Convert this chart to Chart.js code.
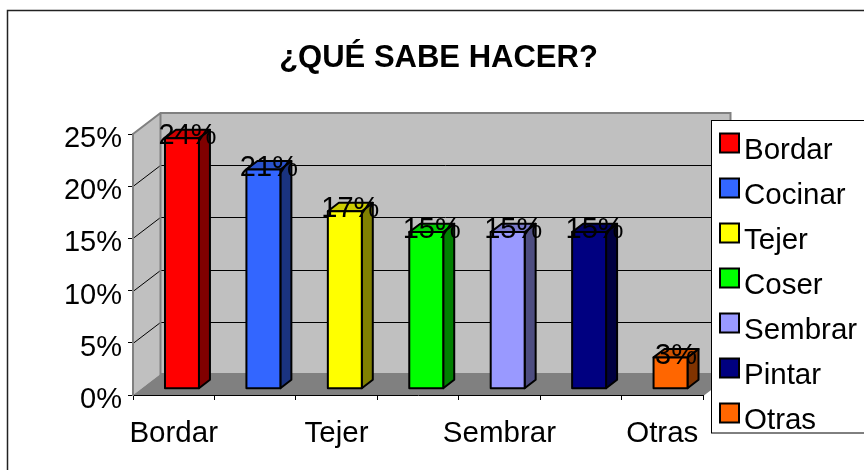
<!DOCTYPE html>
<html>
<head>
<meta charset="utf-8">
<script src="https://cdn.jsdelivr.net/npm/chart.js@4/dist/chart.umd.min.js"></script>
<style>
html,body{margin:0;padding:0;background:#fff;}
#c{display:block;}
</style>
</head>
<body>
<canvas id="c" width="864" height="470"></canvas>
<script>
const titleText = '¿QUÉ SABE HACER?';
const categories = ['Bordar','Cocinar','Tejer','Coser','Sembrar','Pintar','Otras'];
const values = [0.24, 0.21, 0.17, 0.15, 0.15, 0.15, 0.03];
const dataLabels = ['24%','21%','17%','15%','15%','15%','3%'];
const yTickValues = [0, 0.05, 0.10, 0.15, 0.20, 0.25];
const frontColors = ['#FF0000','#3366FF','#FFFF00','#00FF00','#9999FF','#000080','#FF6600'];
const topColors   = ['#CC0000','#2952CC','#CCCC00','#00CC00','#7A7ACC','#000066','#CC5200'];
const sideColors  = ['#800000','#1A3380','#808000','#008000','#4D4D80','#000040','#803300'];

const FONT = "'Liberation Sans', Arial, Helvetica, sans-serif";
const D = {x: 27.5, y: -21};   // 3D depth of the plot
const F0 = 0.3, F1 = 0.7;      // bar position within depth

const threeD = {
  id: 'threeD',
  beforeDraw(chart) {
    const ctx = chart.ctx;
    const ca = chart.chartArea;
    const ys = chart.scales.y;
    ctx.save();
    ctx.fillStyle = '#fff';
    ctx.fillRect(0, 0, chart.width, chart.height);
    // outer frame
    ctx.strokeStyle = '#222';
    ctx.lineWidth = 1.5;
    ctx.strokeRect(7.5, 10.5, 1000, 1000);
    // title
    ctx.fillStyle = '#000';
    ctx.font = 'bold 31px ' + FONT;
    ctx.textAlign = 'center';
    ctx.textBaseline = 'alphabetic';
    ctx.fillText(titleText, 438.5, 67);

    const y0 = ys.getPixelForValue(0), yT = ys.getPixelForValue(0.25);
    const L = ca.left, R = ca.right;
    // back wall
    ctx.fillStyle = '#C0C0C0';
    ctx.fillRect(L + D.x, yT + D.y, R - L, y0 - yT);
    // side wall
    ctx.beginPath();
    ctx.moveTo(L, yT); ctx.lineTo(L + D.x, yT + D.y); ctx.lineTo(L + D.x, y0 + D.y); ctx.lineTo(L, y0); ctx.closePath();
    ctx.fill();
    // floor
    ctx.fillStyle = '#808080';
    ctx.beginPath();
    ctx.moveTo(L, y0); ctx.lineTo(L + D.x, y0 + D.y); ctx.lineTo(R + D.x, y0 + D.y); ctx.lineTo(R, y0); ctx.closePath();
    ctx.fill();
    // gridlines
    ctx.strokeStyle = '#000';
    ctx.lineWidth = 1;
    yTickValues.forEach(v => {
      if (v === 0 || v === 0.25) return;
      const py = Math.round(ys.getPixelForValue(v)) + 0.5;
      ctx.beginPath();
      ctx.moveTo(L, py); ctx.lineTo(L + D.x, py + D.y); ctx.lineTo(R + D.x, py + D.y);
      ctx.stroke();
    });
    // wall edges
    ctx.strokeStyle = '#808080';
    ctx.lineWidth = 2;
    ctx.beginPath();
    ctx.moveTo(L, yT); ctx.lineTo(L + D.x, yT + D.y); ctx.lineTo(R + D.x, yT + D.y); ctx.lineTo(R + D.x, y0 + D.y); ctx.lineTo(R, y0);
    ctx.moveTo(L + D.x, yT + D.y); ctx.lineTo(L + D.x, y0 + D.y); ctx.lineTo(R + D.x, y0 + D.y);
    ctx.stroke();
    ctx.restore();
  },
  afterDatasetsDraw(chart) {
    const ctx = chart.ctx;
    const meta = chart.getDatasetMeta(0);
    ctx.save();
    ctx.lineWidth = 2;
    ctx.lineJoin = 'round';
    ctx.strokeStyle = '#000';
    meta.data.forEach((el, i) => {
      const w = el.width;
      const fx = el.x - w / 2 + D.x * F0;
      const ft = el.y + D.y * F0;
      const fb = el.base + D.y * F0;
      const dx = D.x * (F1 - F0), dy = D.y * (F1 - F0);
      // side
      ctx.fillStyle = sideColors[i];
      ctx.beginPath();
      ctx.moveTo(fx + w, ft); ctx.lineTo(fx + w + dx, ft + dy); ctx.lineTo(fx + w + dx, fb + dy); ctx.lineTo(fx + w, fb); ctx.closePath();
      ctx.fill(); ctx.stroke();
      // top
      ctx.fillStyle = topColors[i];
      ctx.beginPath();
      ctx.moveTo(fx, ft); ctx.lineTo(fx + dx, ft + dy); ctx.lineTo(fx + w + dx, ft + dy); ctx.lineTo(fx + w, ft); ctx.closePath();
      ctx.fill(); ctx.stroke();
      // front
      ctx.fillStyle = frontColors[i];
      ctx.beginPath();
      ctx.rect(fx, ft, w, fb - ft);
      ctx.fill(); ctx.stroke();
    });
    // data labels
    ctx.fillStyle = '#000';
    ctx.font = '29px ' + FONT;
    ctx.textAlign = 'center';
    ctx.textBaseline = 'alphabetic';
    meta.data.forEach((el, i) => {
      const cx = el.x + D.x * (F0 + F1) / 2;
      const cy = el.y + D.y * (F0 + F1) / 2 + 0.358 * 29;
      ctx.fillText(dataLabels[i], cx, cy);
    });
    ctx.restore();
  },
  afterDraw(chart) {
    const ctx = chart.ctx;
    ctx.save();
    const bx = 711.5, by = 120.5, bw = 200, bh = 312.5;
    ctx.fillStyle = '#fff';
    ctx.fillRect(bx, by, bw, bh);
    ctx.strokeStyle = '#000';
    ctx.lineWidth = 1;
    ctx.strokeRect(bx, by, bw, bh);
    ctx.font = '29.5px ' + FONT;
    ctx.textAlign = 'left';
    ctx.textBaseline = 'alphabetic';
    categories.forEach((c, i) => {
      const sy = 133.5 + i * 45;
      ctx.fillStyle = frontColors[i];
      ctx.fillRect(720, sy, 19, 19);
      ctx.lineWidth = 2;
      ctx.strokeStyle = '#000';
      ctx.strokeRect(720, sy, 19, 19);
      ctx.fillStyle = '#000';
      ctx.fillText(c, 744, sy + 25);
    });
    ctx.restore();
  }
};

new Chart(document.getElementById('c'), {
  type: 'bar',
  data: {
    labels: categories,
    datasets: [{
      data: values,
      backgroundColor: 'rgba(0,0,0,0)',
      borderWidth: 0,
      barPercentage: 0.417,
      categoryPercentage: 1
    }]
  },
  options: {
    responsive: false,
    animation: false,
    devicePixelRatio: 1,
    layout: { padding: { top: 134, right: 161, left: 0, bottom: 0 } },
    plugins: { legend: { display: false }, title: { display: false }, tooltip: { enabled: false } },
    scales: {
      x: {
        grid: { display: true, drawOnChartArea: false, drawTicks: true, tickLength: 5, color: '#000', offset: true },
        border: { display: true, color: '#000', width: 1 },
        ticks: {
          autoSkip: false, maxRotation: 0, minRotation: 0, color: '#000', padding: 16,
          font: { size: 29.5, family: FONT },
          callback: (v, i) => (i % 2 === 0 ? categories[i] : '')
        },
        afterFit: s => { s.height = 75; }
      },
      y: {
        min: 0, max: 0.25,
        afterBuildTicks: s => { s.ticks = yTickValues.map(v => ({ value: v })); },
        grid: { display: true, drawOnChartArea: false, drawTicks: true, tickLength: 5, color: '#000' },
        border: { display: true, color: '#808080', width: 2 },
        ticks: {
          color: '#000', padding: 6, labelOffset: 5,
          font: { size: 29, family: FONT },
          callback: v => Math.round(v * 100) + '%'
        },
        afterFit: s => { s.width = 133; }
      }
    }
  },
  plugins: [threeD]
});
</script>
</body>
</html>
